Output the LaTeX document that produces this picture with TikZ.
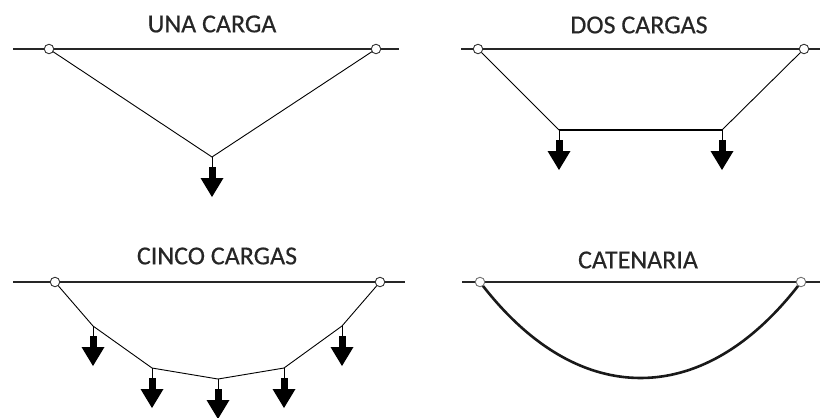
\documentclass[tikz,border=0pt]{standalone}
\usepackage{fontspec}
\setmainfont{Carlito}[FakeBold=0.4]
\begin{document}
\begin{tikzpicture}[x=1pt,y=-1pt,
  title/.style={font=\fontsize{26}{30}\selectfont, text=black!85, inner sep=0pt, anchor=center},
  support/.style={line width=1.4pt, black!85},
  cable/.style={line width=0.9pt, black},
  pin/.style={circle, draw=black!80, fill=white, line width=0.9pt, minimum size=9.5pt, inner sep=0pt},
  gpin/.style={pin, draw=black!55},
  loadarrow/.pic={
    \draw[line width=0.9pt] (0,0) -- (0,10);
    \fill (-3.5,9.5) rectangle (3.5,21);
    \fill (-11.5,21) -- (11.5,21) -- (0,40) -- cycle;
  }]
\useasboundingbox (0,0) rectangle (820,418);

% ---- UNA CARGA
\node[title] (t1) at (212,24) {UNA CARGA};
\coordinate (s1a) at (13,49);
\coordinate (s1b) at (399,49);
\draw[support] (s1a) -- (s1b);
\coordinate (q1) at (212,157);
\draw[cable] (49,49) -- (q1) -- (376,49);
\node[pin] (a1) at (49,49) {};
\node[pin] (b1) at (376,49) {};
\pic at (q1) {loadarrow};

% ---- DOS CARGAS
\node[title] (t2) at (639,25) {DOS CARGAS};
\coordinate (s2a) at (461,49);
\coordinate (s2b) at (820,49);
\draw[support] (s2a) -- (s2b);
\coordinate (q2a) at (559,130);
\coordinate (q2b) at (722,130);
\draw[cable] (478,49) -- (q2a) -- (q2b) -- (804,49);
\draw[line width=1.4pt] (q2a) -- (q2b);
\node[pin] (a2) at (478,49) {};
\node[pin] (b2) at (804,49) {};
\pic at (q2a) {loadarrow};
\pic at (q2b) {loadarrow};

% ---- CINCO CARGAS
\node[title] (t3) at (217,256) {CINCO CARGAS};
\coordinate (s3a) at (13,282);
\coordinate (s3b) at (405,282);
\draw[support] (s3a) -- (s3b);
\coordinate (p1) at (93,326);
\coordinate (p2) at (152,368);
\coordinate (p3) at (218,379);
\coordinate (p4) at (284,368);
\coordinate (p5) at (342,326);
\draw[cable] (55,282) -- (p1) -- (p2) -- (p3) -- (p4) -- (p5) -- (380,282);
\node[pin] (a3) at (55,282) {};
\node[pin] (b3) at (380,282) {};
\foreach \p in {p1,p2,p3,p4,p5} { \pic at (\p) {loadarrow}; }

% ---- CATENARIA
\node[title] (t4) at (638,260) {CATENARIA};
\coordinate (s4a) at (462,282);
\coordinate (s4b) at (820,282);
\draw[support] (s4a) -- (s4b);
\draw[line width=2.6pt, black!90, line cap=round] plot[domain=-158:158, samples=80, smooth]
  ({640.5+\x}, {378 - 148*(cosh(\x/148)-1)});
\node[gpin] (a4) at (480,282) {};
\node[gpin] (b4) at (801,282) {};
\end{tikzpicture}
\end{document}
